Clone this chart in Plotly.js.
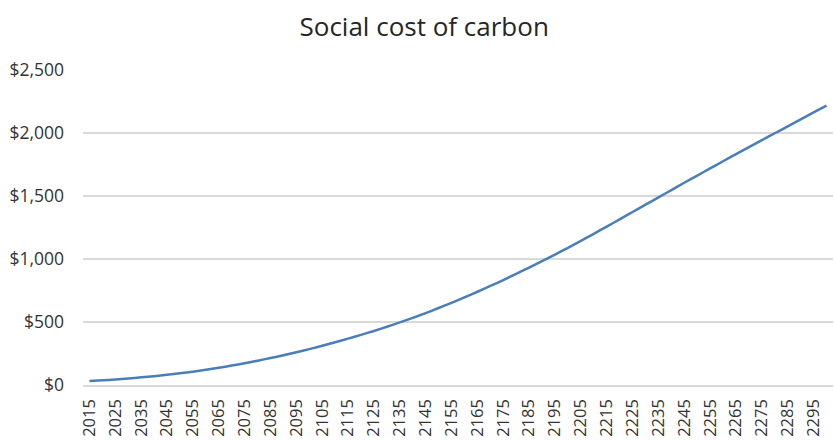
<!DOCTYPE html>
<html>
<head>
<meta charset="utf-8">
<script src="https://cdn.plot.ly/plotly-3.0.1.min.js"></script>
<style>html,body{margin:0;padding:0;background:#fff;}#chart{width:835px;height:441px;}</style>
</head>
<body>
<div id="chart"></div>
<script>
var years = [2015,2020,2025,2030,2035,2040,2045,2050,2055,2060,2065,2070,2075,2080,2085,2090,2095,2100,2105,2110,2115,2120,2125,2130,2135,2140,2145,2150,2155,2160,2165,2170,2175,2180,2185,2190,2195,2200,2205,2210,2215,2220,2225,2230,2235,2240,2245,2250,2255,2260,2265,2270,2275,2280,2285,2290,2295,2300];
var socialCost = [32,37,44,52,61,70,81,93,106,121,137,154,173,193,214,236,260,285,311,339,368,398,429,462,497,533,571,611,652,695,740,786,833,882,932,983,1035,1089,1144,1200,1257,1315,1373,1431,1489,1547,1605,1662,1719,1776,1832,1888,1943,1998,2053,2108,2163,2218];
var tickYears = [2015,2025,2035,2045,2055,2065,2075,2085,2095,2105,2115,2125,2135,2145,2155,2165,2175,2185,2195,2205,2215,2225,2235,2245,2255,2265,2275,2285,2295];
var yTicks = [0,500,1000,1500,2000,2500];

var cats = years.map(String);
var font = "Open Sans, Noto Sans, sans-serif";

Plotly.newPlot('chart', [{
  x: cats,
  y: socialCost,
  type: 'scatter',
  mode: 'lines',
  line: {color: '#4a7ebb', width: 2.5, shape: 'spline', smoothing: 0.6},
  hoverinfo: 'skip'
}], {
  width: 835, height: 441,
  margin: {l: 83, r: 2, t: 70, b: 56},
  paper_bgcolor: '#fff', plot_bgcolor: '#fff',
  showlegend: false,
  title: {text: 'Social cost of carbon', x: 0.508, xanchor: 'center', y: 0.94, yanchor: 'middle',
          font: {family: font, size: 26, color: '#262626'}},
  xaxis: {
    type: 'category',
    range: [-0.5, cats.length - 0.5],
    tickmode: 'array',
    tickvals: tickYears.map(String),
    ticktext: tickYears.map(String),
    tickangle: -90,
    ticks: '',
    showgrid: false,
    showline: true, linecolor: '#d9d9d9', linewidth: 1.5,
    ticklabelstandoff: 6,
    tickfont: {family: font, size: 16.5, color: '#333333'},
    fixedrange: true
  },
  yaxis: {
    range: [0, 2500],
    tickmode: 'array',
    tickvals: yTicks,
    ticktext: yTicks.map(function(v){ return '$' + v.toLocaleString('en-US'); }),
    showgrid: true, gridcolor: '#d9d9d9', gridwidth: 1.5,
    zeroline: false,
    showline: false,
    ticks: '',
    ticklabelstandoff: 18,
    tickfont: {family: font, size: 17.5, color: '#333333'},
    fixedrange: true
  }
}, {staticPlot: true, displayModeBar: false});
</script>
</body>
</html>
